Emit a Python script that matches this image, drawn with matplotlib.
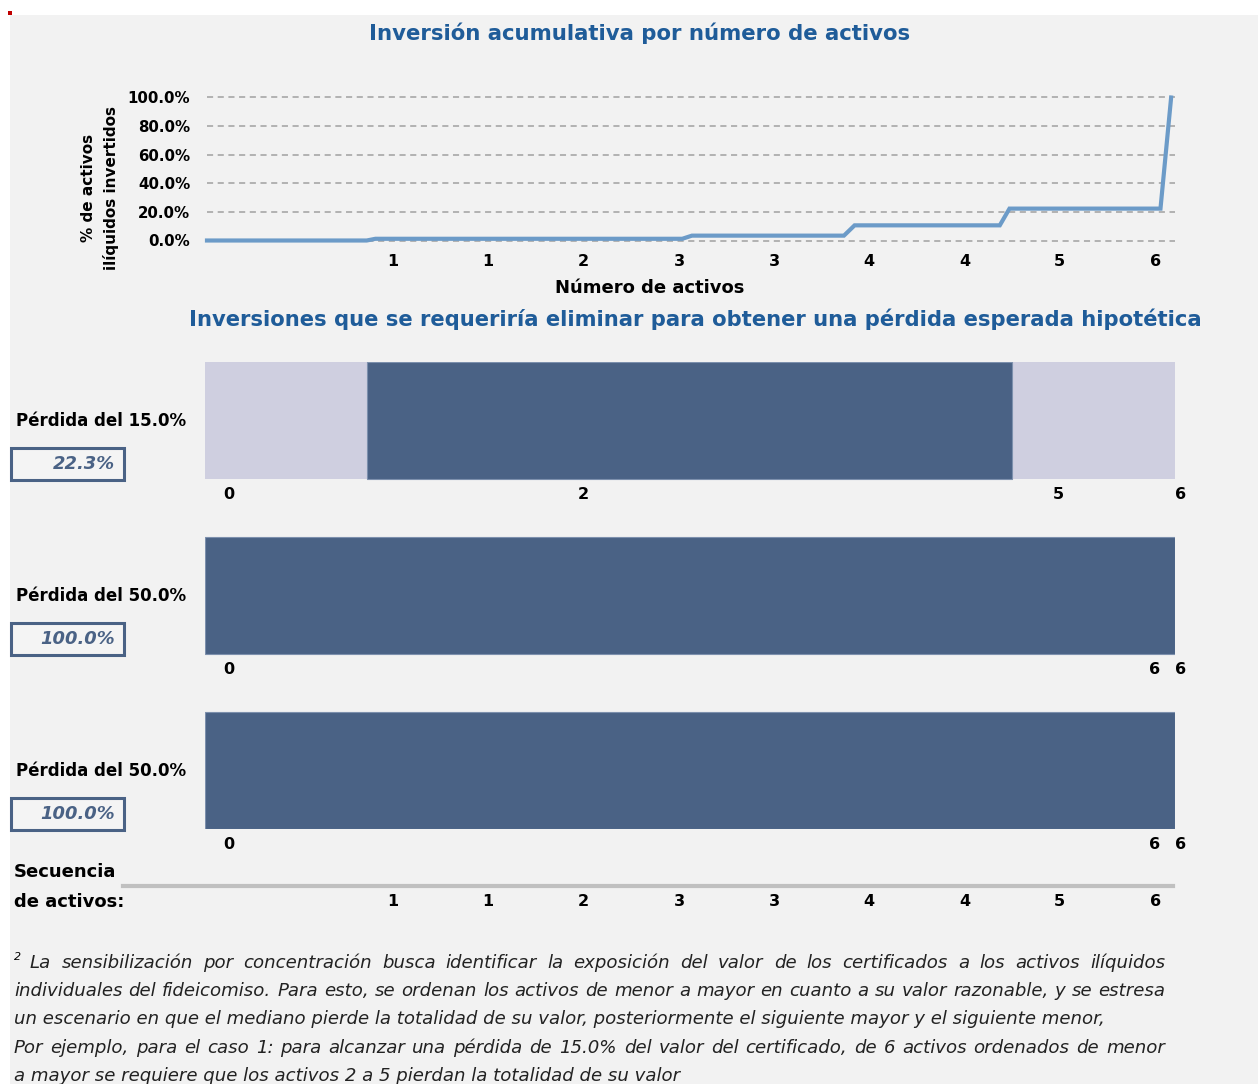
import matplotlib
matplotlib.use("Agg")
import matplotlib.pyplot as plt
from matplotlib.lines import Line2D
from matplotlib.patches import Rectangle

plt.rcParams["font.family"] = ["DejaVu Sans"]

W, H = 1258, 1084

# curva acumulada: posicion en la secuencia (% del eje) y % invertido
pos_curva = [0, 16.5, 17.4, 49.1, 50.1, 65.8, 66.9, 81.9, 82.9, 98.5, 99.6]
pct_curva = [0, 0, 1.2, 1.2, 3.4, 3.4, 10.6, 10.6, 22.3, 22.3, 100]

pos_ticks = [19.2, 29.0, 38.9, 48.8, 58.6, 68.4, 78.3, 88.1, 98.0]
etq_ticks = ["1", "1", "2", "3", "3", "4", "4", "5", "6"]
y_ticks = [0, 20, 40, 60, 80, 100]

# escenarios de perdida
escenarios = ["Pérdida del 15.0%", "Pérdida del 50.0%", "Pérdida del 50.0%"]
requerido = ["22.3%", "100.0%", "100.0%"]
elim_ini = [16.7, 0, 0]
elim_fin = [83.2, 100, 100]
etq_barras = [["0", "2", "5", "6"], ["0", "6", "6"], ["0", "6", "6"]]
pos_etq_barras = [[2.5, 39.0, 88.0, 100.6], [2.5, 97.9, 100.6], [2.5, 97.9, 100.6]]

nota = [
    "La sensibilización por concentración busca identificar la exposición del valor de los certificados a los activos ilíquidos",
    "individuales del fideicomiso. Para esto, se ordenan los activos de menor a mayor en cuanto a su valor razonable, y se estresa",
    "un escenario en que el mediano pierde la totalidad de su valor, posteriormente el siguiente mayor y el siguiente menor,",
    "Por ejemplo, para el caso 1: para alcanzar una pérdida de 15.0% del valor del certificado, de 6 activos ordenados de menor",
    "a mayor se requiere que los activos 2 a 5 pierdan la totalidad de su valor",
]
justificar = [True, True, False, True, False]

AZUL_TIT = "#1f5c99"
AZUL_BAR = "#4a6285"
LILA = "#cfcfe0"
FONDO = "#f2f2f2"


def fx(x):
    return x / W


def fy(y):
    return 1 - y / H


def caja(l, t, r, b):
    return [fx(l), fy(b), (r - l) / W, (b - t) / H]


fig = plt.figure(figsize=(W / 100, H / 100), dpi=100, facecolor="white")
fig.add_artist(Rectangle((fx(10), 0), 1, fy(15), transform=fig.transFigure,
                         facecolor=FONDO, edgecolor="none", zorder=-10))
fig.add_artist(Rectangle((fx(8), fy(15)), 4 / W, 4 / H, transform=fig.transFigure,
                         facecolor="#c00000", edgecolor="none"))

# --- grafico superior
X0, X1 = 207, 1175
ax = fig.add_axes(caja(X0, 97.5, X1, 240.5))
ax.set_facecolor("none")
ax.set_axisbelow(True)
ax.plot(pos_curva, pct_curva, color="#6c9bc8", lw=3, clip_on=False, zorder=5,
        solid_joinstyle="miter")
ax.set_xlim(0, 100)
ax.set_ylim(0, 100)
ax.set_yticks(y_ticks)
ax.set_yticklabels([f"{v:.1f}%" for v in y_ticks], fontsize=10.8, fontweight="bold")
ax.set_xticks(pos_ticks)
ax.set_xticklabels(etq_ticks, fontsize=11.5, fontweight="bold")
ax.tick_params(length=0, pad=10)
ax.tick_params(axis="y", pad=12)
ax.yaxis.grid(True, ls=(0, (4, 3)), color="#a0a0a0", lw=1.1)
for gl in ax.get_ygridlines():
    gl.set_clip_on(False)
for s in ax.spines.values():
    s.set_visible(False)

fig.text(fx(640), fy(33), "Inversión acumulativa por número de activos",
         ha="center", va="center", fontsize=15.35, fontweight="bold", color=AZUL_TIT)
fig.text(fx(650), fy(288), "Número de activos", ha="center", va="center",
         fontsize=13, fontweight="bold")
fig.text(fx(100), fy(188), "% de activos\nilíquidos invertidos", rotation=90,
         ha="center", va="center", multialignment="center", fontsize=11,
         fontweight="bold", linespacing=1.5)

fig.text(fx(695), fy(319),
         "Inversiones que se requeriría eliminar para obtener una pérdida esperada hipotética",
         ha="center", va="center", fontsize=15.25, fontweight="bold", color=AZUL_TIT)

# --- barras de escenarios
axb = fig.add_axes(caja(205, 362, X1, 829))
axb.set_facecolor("none")
alto = 117 / 175
for i in range(len(escenarios)):
    axb.barh(i, 100, left=0, height=alto, color=LILA, edgecolor="none")
    axb.barh(i, elim_fin[i] - elim_ini[i], left=elim_ini[i], height=alto,
             color=AZUL_BAR, edgecolor="#7d90ad", lw=0.8)
    for t, p in zip(etq_barras[i], pos_etq_barras[i]):
        axb.text(p, i + 0.423, t, ha="center", va="center", fontsize=11.5,
                 fontweight="bold")
    yc = 420 + 175 * i
    fig.text(fx(16), fy(yc + 1), escenarios[i], ha="left", va="center",
             fontsize=12, fontweight="bold")
    fig.add_artist(Rectangle((fx(11), fy(yc + 60)), 113 / W, 32 / H,
                             transform=fig.transFigure, facecolor="#f4f4f4",
                             edgecolor=AZUL_BAR, lw=2.2))
    fig.text(fx(115), fy(yc + 44), requerido[i], ha="right", va="center",
             fontsize=12.9, fontweight="bold", style="italic", color=AZUL_BAR)
axb.set_xlim(0, 100)
axb.set_ylim(2 + alto / 2, -alto / 2)
axb.axis("off")

# --- secuencia de activos
fig.text(fx(14), fy(872), "Secuencia", ha="left", va="center", fontsize=13,
         fontweight="bold")
fig.text(fx(14), fy(902), "de activos:", ha="left", va="center", fontsize=13,
         fontweight="bold")
fig.add_artist(Line2D([fx(123), fx(1173)], [fy(886), fy(886)], lw=3,
                      color="#c0c0c0", transform=fig.transFigure))
for p, t in zip(pos_ticks, etq_ticks):
    fig.text(fx(X0 + p / 100 * (X1 - X0)), fy(902), t, ha="center", va="center",
             fontsize=11.5, fontweight="bold")

# --- nota al pie
rend = fig.canvas.get_renderer()
fig.text(fx(14), fy(957), "2", fontsize=8, style="italic", ha="left", va="center")
kw = dict(fontsize=13.1, style="italic", va="center", ha="left", color="#222222")
for j, (linea, just) in enumerate(zip(nota, justificar)):
    y = 963 + 28.2 * j
    x0 = 30 if j == 0 else 14
    if not just:
        fig.text(fx(x0), fy(y), linea, **kw)
        continue
    palabras = linea.split()
    objs = [fig.text(0, 0, p, **kw) for p in palabras]
    anchos = [o.get_window_extent(rend).width for o in objs]
    hueco = (1165 - x0 - sum(anchos)) / (len(palabras) - 1)
    x = x0
    for o, a in zip(objs, anchos):
        o.set_position((fx(x), fy(y)))
        x += a + hueco

fig.savefig("out.png", dpi=100, facecolor=fig.get_facecolor())
